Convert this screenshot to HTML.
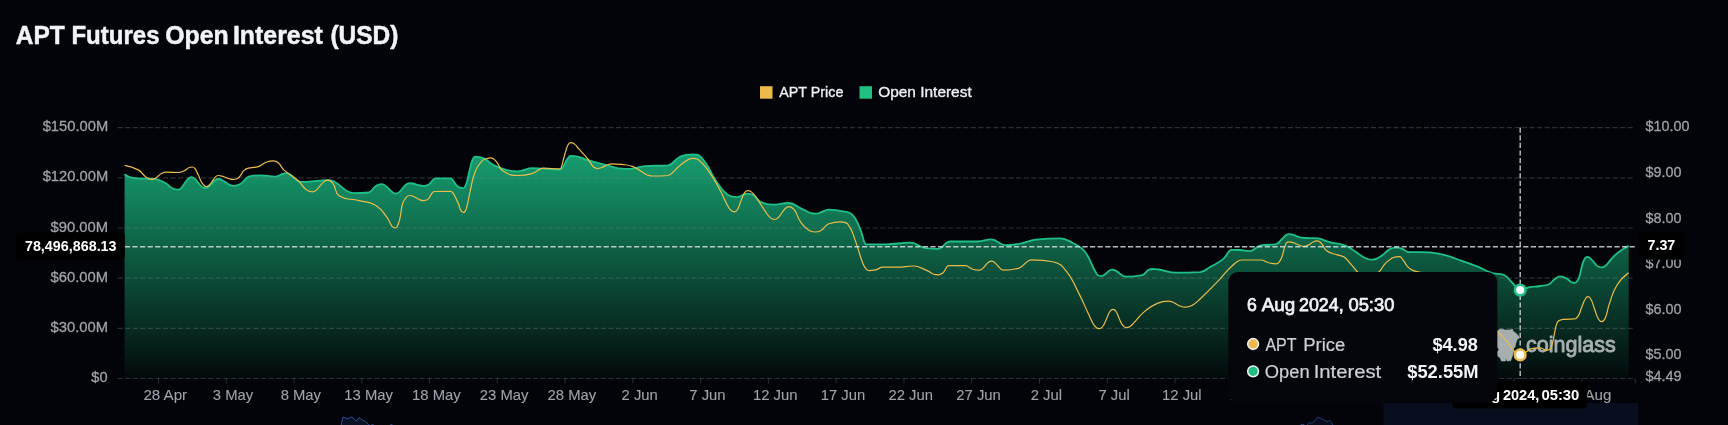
<!DOCTYPE html><html><head><meta charset="utf-8"><title>APT Futures Open Interest</title>
<style>html,body{margin:0;padding:0;background:#02040a;}body{width:1728px;height:425px;overflow:hidden;position:relative;font-family:"Liberation Sans",sans-serif;}svg{position:absolute;left:0;top:0;display:block;will-change:transform}text{font-family:"Liberation Sans",sans-serif;}</style></head><body>
<svg width="1728" height="425" viewBox="0 0 1728 425">
<defs><linearGradient id="ga" x1="0" y1="154" x2="0" y2="378.5" gradientUnits="userSpaceOnUse"><stop offset="0" stop-color="#169e6f"/><stop offset="1" stop-color="#030a0b"/></linearGradient></defs>
<rect width="1728" height="425" fill="#02040a"/>
<text x="15.80" y="44.1" font-size="25.4" font-weight="700" fill="#f1f3f6" stroke="#f1f3f6" stroke-width="0.5" stroke-linejoin="round" textLength="48.98" lengthAdjust="spacingAndGlyphs">APT</text>
<text x="71.43" y="44.1" font-size="25.4" font-weight="700" fill="#f1f3f6" stroke="#f1f3f6" stroke-width="0.5" stroke-linejoin="round" textLength="88.08" lengthAdjust="spacingAndGlyphs">Futures</text>
<text x="165.21" y="44.1" font-size="25.4" font-weight="700" fill="#f1f3f6" stroke="#f1f3f6" stroke-width="0.5" stroke-linejoin="round" textLength="63.48" lengthAdjust="spacingAndGlyphs">Open</text>
<text x="232.90" y="44.1" font-size="25.4" font-weight="700" fill="#f1f3f6" stroke="#f1f3f6" stroke-width="0.5" stroke-linejoin="round" textLength="89.92" lengthAdjust="spacingAndGlyphs">Interest</text>
<text x="330.43" y="44.1" font-size="25.4" font-weight="700" fill="#f1f3f6" stroke="#f1f3f6" stroke-width="0.5" stroke-linejoin="round" textLength="68.00" lengthAdjust="spacingAndGlyphs">(USD)</text>
<rect x="760" y="86.2" width="12.5" height="12.5" fill="#ecb94d"/>
<text x="779.30" y="97.1" font-size="15" fill="#eef0f3" stroke="#eef0f3" stroke-width="0.35" stroke-linejoin="round" textLength="64.03" lengthAdjust="spacingAndGlyphs">APT Price</text>
<rect x="859.5" y="86.2" width="12.5" height="12.5" fill="#1fc082"/>
<text x="878.20" y="97.1" font-size="15" fill="#eef0f3" stroke="#eef0f3" stroke-width="0.35" stroke-linejoin="round" textLength="93.52" lengthAdjust="spacingAndGlyphs">Open Interest</text>
<rect x="1383.5" y="402.9" width="254.6" height="23" fill="#080e1e"/>
<path d="M341.1,425.5 L343.1,417.1 L346.3,418.5 L349.8,417.9 L351.9,416.8 L356.5,421.4 L359,417.4 L361.3,419.4 L365.4,421.4 L368.3,424.3 L370,425.5 Z" fill="#0a1224" stroke="#2d5096" stroke-width="1"/>
<path d="M371.5,425 L372.5,424 L373.5,425 M390.5,425 L391.4,424 L392.3,425 M1300.5,425 L1302.5,424.2 L1304.5,425" fill="none" stroke="#2d5096" stroke-width="1"/>
<path d="M1307.1,425.5 L1308.5,422.9 L1312.6,422.9 L1317.8,417 L1321.7,418.8 L1327.2,421.9 L1329.3,420.3 L1331.7,422.2 L1332.8,425.5 Z" fill="#080d1c" stroke="#1e3a70" stroke-width="1"/>
<path d="M124.6,174.2C124.6,174.2 127.0,176.3 129.8,177.1C133.8,178.3 134.0,178.0 138.2,178.3C146.4,178.8 146.7,178.3 154.7,178.8C160.2,179.8 160.3,180.3 165.3,183.0C169.2,185.1 168.5,186.3 172.4,188.3C175.0,189.6 175.8,189.6 178.2,189.6C179.6,189.6 180.2,189.1 181.4,187.8C185.1,183.8 184.3,183.0 187.9,179.0C189.2,177.7 189.8,177.2 191.2,177.2C192.7,177.2 193.3,177.5 194.7,178.8C198.6,182.2 197.9,183.2 201.8,186.6C203.2,187.9 203.8,188.2 205.3,188.2C206.7,188.2 207.2,187.9 208.5,186.9C212.0,184.0 211.5,183.2 215.0,180.3C216.3,179.3 216.8,179.0 218.2,179.0C219.8,179.0 220.3,179.1 222.0,180.0C226.0,182.1 225.7,182.8 229.7,184.9C231.4,185.8 231.9,185.9 233.5,185.9C236.4,185.9 237.4,185.8 240.4,184.0C245.1,181.2 243.9,178.7 248.8,176.6C254.0,175.3 255.6,175.3 260.6,175.3C266.5,175.3 268.8,176.6 274.7,176.6C278.4,176.6 279.1,175.0 283.6,173.7C285.0,173.3 285.3,173.2 286.5,173.2C288.0,173.2 288.4,173.5 290.0,174.5C295.5,177.8 296.2,181.9 300.6,181.9C312.4,181.9 317.0,180.2 328.8,180.2C339.2,180.2 343.1,193.2 353.5,193.2C359.9,193.2 361.9,193.2 368.8,192.5C373.2,191.1 371.9,188.4 375.9,185.9C378.4,184.3 379.3,184.2 381.8,184.2C383.3,184.2 383.8,184.4 385.3,185.6C389.1,188.5 388.6,189.3 392.4,192.2C393.9,193.4 394.4,193.6 395.9,193.6C397.3,193.6 397.9,193.3 399.3,192.1C403.0,188.8 402.3,187.9 406.0,184.6C407.4,183.4 408.0,183.1 409.4,183.1C410.9,183.1 411.2,183.1 412.9,183.5C416.5,184.3 416.4,184.7 420.0,185.5C421.7,185.9 422.0,185.9 423.5,185.9C425.7,185.9 426.5,185.8 428.8,184.4C432.4,182.1 432.6,178.4 435.3,178.4C441.7,178.4 444.2,178.4 450.6,178.4C453.5,178.4 453.5,183.1 457.4,186.2C459.7,188.0 460.7,188.2 463.0,188.2C464.2,188.2 465.1,186.9 465.9,184.8C468.3,178.4 467.6,178.0 469.4,171.3C471.0,165.4 470.4,165.1 472.6,159.6C473.4,157.8 474.2,156.7 475.3,156.7C478.9,156.7 479.9,156.7 483.8,158.4C489.3,161.0 488.6,162.6 494.1,165.4C500.2,168.5 500.4,168.5 507.0,170.1C512.1,171.3 513.2,171.3 517.6,171.3C519.1,171.3 519.4,171.2 521.1,170.8C526.5,169.7 527.3,168.2 531.8,168.2C543.6,168.2 548.2,169.6 560.0,169.6C563.3,169.6 563.7,163.5 568.0,158.0C569.0,156.7 569.5,156.0 570.6,156.0C573.9,156.0 574.7,156.0 578.5,156.8C583.5,158.0 583.3,158.7 588.2,160.2C597.6,163.0 597.6,162.8 607.1,165.4C612.3,166.8 612.2,167.2 617.4,168.2C621.6,168.9 622.3,168.9 625.9,168.9C629.5,168.9 630.2,168.9 634.4,168.3C639.6,167.6 639.4,166.6 644.7,166.1C656.4,165.4 657.3,166.1 668.2,165.4C675.0,163.6 673.5,159.6 680.0,156.7C685.8,154.4 687.5,154.4 692.9,154.4C695.1,154.4 696.2,154.4 698.2,154.8C703.0,158.2 703.0,159.0 706.5,164.2C711.8,172.0 710.5,172.9 715.9,180.7C721.1,188.2 720.7,189.4 727.6,194.8C731.3,197.2 733.1,197.2 737.0,197.2C740.3,197.2 740.9,195.5 745.0,194.1C746.2,193.7 746.5,193.6 747.6,193.6C750.1,193.6 751.0,193.7 753.5,195.3C757.5,197.8 756.4,199.8 760.6,201.9C765.9,204.5 767.4,204.7 772.4,204.7C779.3,204.7 781.9,203.0 788.8,203.0C794.8,203.0 795.9,206.2 803.0,209.4C806.6,211.0 806.4,211.6 810.1,212.8C812.9,213.6 813.5,213.6 815.9,213.6C817.3,213.6 817.6,213.5 819.1,213.0C824.0,211.5 824.7,209.6 828.8,209.6C834.8,209.6 836.0,209.8 843.0,211.3C847.7,212.3 849.0,211.3 852.2,214.6C857.4,219.8 856.6,221.2 859.9,228.3C863.5,236.0 863.4,244.3 866.0,244.3C874.4,244.3 877.5,244.3 885.9,244.3C896.1,244.3 900.1,242.7 910.3,242.7C916.7,242.7 917.7,246.5 925.6,248.2C931.5,248.8 932.7,248.8 937.9,248.8C943.0,248.8 945.0,241.5 950.1,241.5C961.6,241.5 966.1,241.5 977.6,241.5C983.4,241.5 985.6,239.4 991.4,239.4C997.2,239.4 999.3,245.2 1005.1,245.2C1011.5,245.2 1012.8,245.0 1020.4,243.6C1028.1,242.2 1027.9,240.7 1035.7,239.7C1047.8,238.4 1049.9,238.4 1060.2,238.4C1065.3,238.4 1066.7,239.7 1072.4,242.7C1078.9,246.2 1080.1,245.6 1084.6,251.3C1092.4,261.3 1089.8,263.8 1096.9,274.2C1098.3,276.1 1099.6,276.1 1101.5,276.1C1104.9,276.1 1105.4,273.1 1109.5,270.5C1110.7,269.8 1111.1,269.6 1112.2,269.6C1113.6,269.6 1114.0,269.8 1115.6,270.6C1120.9,273.4 1121.6,276.7 1125.9,276.7C1132.7,276.7 1134.6,276.7 1142.2,275.1C1145.7,274.1 1144.8,272.1 1148.1,270.2C1150.2,269.0 1150.9,269.0 1152.9,269.0C1155.3,269.0 1155.8,269.1 1158.7,269.5C1167.3,270.9 1168.7,272.7 1175.9,272.7C1186.1,272.7 1188.5,272.7 1200.3,272.1C1205.6,271.2 1205.2,269.7 1210.0,267.0C1216.4,263.4 1217.0,264.0 1222.7,259.4C1227.8,255.4 1227.9,249.8 1231.6,249.8C1235.1,249.8 1235.8,249.8 1240.0,250.0C1244.8,250.3 1245.5,251.1 1249.5,251.1C1254.3,251.1 1254.8,247.0 1260.9,245.4C1268.2,244.1 1269.2,245.4 1276.2,244.1C1280.1,242.8 1279.4,241.3 1282.6,238.4C1284.4,236.8 1284.1,236.3 1286.1,235.0C1287.3,234.2 1287.7,234.2 1288.9,234.2C1290.8,234.2 1291.3,234.2 1293.5,234.8C1296.4,235.6 1296.2,236.4 1299.1,237.1C1302.8,238.0 1302.9,237.7 1306.8,238.0C1312.5,238.4 1312.6,238.0 1318.2,238.4C1324.1,239.5 1323.9,240.7 1329.7,242.2C1336.0,243.8 1336.2,243.0 1342.4,244.7C1346.3,245.8 1346.5,245.8 1350.0,247.9C1356.7,251.9 1356.2,252.7 1362.8,256.8C1365.1,258.2 1365.2,258.2 1367.7,259.0C1369.6,259.6 1370.0,259.6 1371.7,259.6C1373.6,259.6 1374.2,259.6 1376.3,258.8C1379.3,257.6 1379.3,257.5 1381.9,255.6C1385.9,252.7 1385.4,251.7 1389.6,249.3C1392.4,247.7 1393.3,247.7 1395.9,247.7C1398.3,247.7 1398.9,247.7 1401.6,248.6C1405.3,249.8 1404.8,251.5 1408.6,252.0C1419.0,252.4 1419.4,252.0 1430.0,252.4C1438.0,253.1 1438.1,253.3 1445.9,255.4C1453.7,257.4 1453.6,257.9 1461.2,260.6C1468.9,263.3 1469.0,263.1 1476.5,266.1C1484.2,269.2 1483.9,270.3 1491.7,272.8C1497.6,274.7 1498.6,272.8 1504.0,275.0C1508.5,277.1 1507.8,278.5 1511.6,282.0C1515.7,285.8 1516.4,289.6 1519.9,289.6C1523.5,289.6 1524.1,288.3 1528.4,287.5C1534.1,286.5 1534.2,286.9 1540.0,286.0C1544.5,285.3 1545.0,286.0 1549.0,284.2C1552.2,282.7 1551.5,281.4 1554.5,279.3C1557.1,277.5 1557.7,276.4 1560.1,276.4C1562.9,276.4 1563.7,277.0 1566.8,278.6C1569.2,279.8 1568.8,280.7 1571.1,282.0C1572.7,282.8 1573.2,282.8 1574.7,282.8C1575.5,282.8 1576.0,282.6 1576.7,281.7C1578.2,279.9 1578.3,279.8 1579.1,277.5C1581.3,271.0 1580.5,270.7 1582.5,264.1C1583.4,261.1 1583.4,260.9 1585.0,258.3C1585.6,257.3 1586.1,256.9 1587.0,256.9C1588.1,256.9 1588.5,256.9 1589.5,257.7C1591.3,258.8 1591.1,259.1 1592.6,260.7C1595.1,263.3 1594.7,263.9 1597.5,266.1C1599.1,267.3 1599.8,267.4 1601.5,267.4C1602.6,267.4 1602.9,267.4 1604.0,266.7C1605.7,265.7 1605.7,265.6 1607.1,264.1C1610.6,260.4 1610.1,259.9 1613.8,256.3C1617.1,253.1 1617.2,253.1 1621.0,250.5C1624.7,247.9 1628.7,245.9 1628.7,245.9L1628.7,378.5 L124.6,378.5 Z" fill="url(#ga)"/>
<path d="M1497.5,331.8 L1498.8,329.8 L1500.9,329 L1504.5,330.1 L1510.2,330.1 L1512.3,329 L1513,331.3 L1515.4,332.9 L1518.2,335.5 L1519.2,338.1 L1517.2,339.1 L1515.9,342.7 L1514.9,346.9 L1513,349.1 L1513.3,353.1 L1511.8,357.2 L1510.7,360.5 L1507.1,360.9 L1506.1,357.8 L1505.3,360.9 L1501.4,360.9 L1500.4,357.8 L1497.8,356.2 L1497.5,352 L1499.1,349.5 L1497.5,346.9 Z" fill="#a7aeb0" stroke="#a7aeb0" stroke-width="0.8" stroke-linejoin="round"/>
<text x="1526.07" y="352.0" font-size="22" fill="#a7aeb0" stroke="#a7aeb0" stroke-width="0.9" stroke-linejoin="round" textLength="89.72" lengthAdjust="spacingAndGlyphs">coinglass</text>
<line x1="117.7" y1="127.6" x2="1635.2" y2="127.6" stroke="#7a828c" stroke-opacity="0.35" stroke-width="1.2" stroke-dasharray="5 2.55"/>
<line x1="117.7" y1="177.8" x2="1635.2" y2="177.8" stroke="#7a828c" stroke-opacity="0.35" stroke-width="1.2" stroke-dasharray="5 2.55"/>
<line x1="117.7" y1="228.0" x2="1635.2" y2="228.0" stroke="#7a828c" stroke-opacity="0.35" stroke-width="1.2" stroke-dasharray="5 2.55"/>
<line x1="117.7" y1="278.1" x2="1635.2" y2="278.1" stroke="#7a828c" stroke-opacity="0.35" stroke-width="1.2" stroke-dasharray="5 2.55"/>
<line x1="117.7" y1="328.3" x2="1635.2" y2="328.3" stroke="#7a828c" stroke-opacity="0.35" stroke-width="1.2" stroke-dasharray="5 2.55"/>
<line x1="117.7" y1="378.5" x2="1635.2" y2="378.5" stroke="#7a828c" stroke-opacity="0.35" stroke-width="1.2" stroke-dasharray="5 2.55"/>
<path d="M158.5,378.5v5M226.3,378.5v5M294.0,378.5v5M361.8,378.5v5M429.6,378.5v5M497.3,378.5v5M565.1,378.5v5M632.9,378.5v5M700.7,378.5v5M768.4,378.5v5M836.2,378.5v5M904.0,378.5v5M971.7,378.5v5M1039.5,378.5v5M1107.3,378.5v5M1175.0,378.5v5M1242.8,378.5v5M1310.6,378.5v5M1378.4,378.5v5M1446.1,378.5v5M1513.9,378.5v5M1581.7,378.5v5M1635.2,378.5v5" stroke="#7a828c" stroke-opacity="0.35" stroke-width="1" fill="none"/>
<path d="M124.6,174.2C124.6,174.2 127.0,176.3 129.8,177.1C133.8,178.3 134.0,178.0 138.2,178.3C146.4,178.8 146.7,178.3 154.7,178.8C160.2,179.8 160.3,180.3 165.3,183.0C169.2,185.1 168.5,186.3 172.4,188.3C175.0,189.6 175.8,189.6 178.2,189.6C179.6,189.6 180.2,189.1 181.4,187.8C185.1,183.8 184.3,183.0 187.9,179.0C189.2,177.7 189.8,177.2 191.2,177.2C192.7,177.2 193.3,177.5 194.7,178.8C198.6,182.2 197.9,183.2 201.8,186.6C203.2,187.9 203.8,188.2 205.3,188.2C206.7,188.2 207.2,187.9 208.5,186.9C212.0,184.0 211.5,183.2 215.0,180.3C216.3,179.3 216.8,179.0 218.2,179.0C219.8,179.0 220.3,179.1 222.0,180.0C226.0,182.1 225.7,182.8 229.7,184.9C231.4,185.8 231.9,185.9 233.5,185.9C236.4,185.9 237.4,185.8 240.4,184.0C245.1,181.2 243.9,178.7 248.8,176.6C254.0,175.3 255.6,175.3 260.6,175.3C266.5,175.3 268.8,176.6 274.7,176.6C278.4,176.6 279.1,175.0 283.6,173.7C285.0,173.3 285.3,173.2 286.5,173.2C288.0,173.2 288.4,173.5 290.0,174.5C295.5,177.8 296.2,181.9 300.6,181.9C312.4,181.9 317.0,180.2 328.8,180.2C339.2,180.2 343.1,193.2 353.5,193.2C359.9,193.2 361.9,193.2 368.8,192.5C373.2,191.1 371.9,188.4 375.9,185.9C378.4,184.3 379.3,184.2 381.8,184.2C383.3,184.2 383.8,184.4 385.3,185.6C389.1,188.5 388.6,189.3 392.4,192.2C393.9,193.4 394.4,193.6 395.9,193.6C397.3,193.6 397.9,193.3 399.3,192.1C403.0,188.8 402.3,187.9 406.0,184.6C407.4,183.4 408.0,183.1 409.4,183.1C410.9,183.1 411.2,183.1 412.9,183.5C416.5,184.3 416.4,184.7 420.0,185.5C421.7,185.9 422.0,185.9 423.5,185.9C425.7,185.9 426.5,185.8 428.8,184.4C432.4,182.1 432.6,178.4 435.3,178.4C441.7,178.4 444.2,178.4 450.6,178.4C453.5,178.4 453.5,183.1 457.4,186.2C459.7,188.0 460.7,188.2 463.0,188.2C464.2,188.2 465.1,186.9 465.9,184.8C468.3,178.4 467.6,178.0 469.4,171.3C471.0,165.4 470.4,165.1 472.6,159.6C473.4,157.8 474.2,156.7 475.3,156.7C478.9,156.7 479.9,156.7 483.8,158.4C489.3,161.0 488.6,162.6 494.1,165.4C500.2,168.5 500.4,168.5 507.0,170.1C512.1,171.3 513.2,171.3 517.6,171.3C519.1,171.3 519.4,171.2 521.1,170.8C526.5,169.7 527.3,168.2 531.8,168.2C543.6,168.2 548.2,169.6 560.0,169.6C563.3,169.6 563.7,163.5 568.0,158.0C569.0,156.7 569.5,156.0 570.6,156.0C573.9,156.0 574.7,156.0 578.5,156.8C583.5,158.0 583.3,158.7 588.2,160.2C597.6,163.0 597.6,162.8 607.1,165.4C612.3,166.8 612.2,167.2 617.4,168.2C621.6,168.9 622.3,168.9 625.9,168.9C629.5,168.9 630.2,168.9 634.4,168.3C639.6,167.6 639.4,166.6 644.7,166.1C656.4,165.4 657.3,166.1 668.2,165.4C675.0,163.6 673.5,159.6 680.0,156.7C685.8,154.4 687.5,154.4 692.9,154.4C695.1,154.4 696.2,154.4 698.2,154.8C703.0,158.2 703.0,159.0 706.5,164.2C711.8,172.0 710.5,172.9 715.9,180.7C721.1,188.2 720.7,189.4 727.6,194.8C731.3,197.2 733.1,197.2 737.0,197.2C740.3,197.2 740.9,195.5 745.0,194.1C746.2,193.7 746.5,193.6 747.6,193.6C750.1,193.6 751.0,193.7 753.5,195.3C757.5,197.8 756.4,199.8 760.6,201.9C765.9,204.5 767.4,204.7 772.4,204.7C779.3,204.7 781.9,203.0 788.8,203.0C794.8,203.0 795.9,206.2 803.0,209.4C806.6,211.0 806.4,211.6 810.1,212.8C812.9,213.6 813.5,213.6 815.9,213.6C817.3,213.6 817.6,213.5 819.1,213.0C824.0,211.5 824.7,209.6 828.8,209.6C834.8,209.6 836.0,209.8 843.0,211.3C847.7,212.3 849.0,211.3 852.2,214.6C857.4,219.8 856.6,221.2 859.9,228.3C863.5,236.0 863.4,244.3 866.0,244.3C874.4,244.3 877.5,244.3 885.9,244.3C896.1,244.3 900.1,242.7 910.3,242.7C916.7,242.7 917.7,246.5 925.6,248.2C931.5,248.8 932.7,248.8 937.9,248.8C943.0,248.8 945.0,241.5 950.1,241.5C961.6,241.5 966.1,241.5 977.6,241.5C983.4,241.5 985.6,239.4 991.4,239.4C997.2,239.4 999.3,245.2 1005.1,245.2C1011.5,245.2 1012.8,245.0 1020.4,243.6C1028.1,242.2 1027.9,240.7 1035.7,239.7C1047.8,238.4 1049.9,238.4 1060.2,238.4C1065.3,238.4 1066.7,239.7 1072.4,242.7C1078.9,246.2 1080.1,245.6 1084.6,251.3C1092.4,261.3 1089.8,263.8 1096.9,274.2C1098.3,276.1 1099.6,276.1 1101.5,276.1C1104.9,276.1 1105.4,273.1 1109.5,270.5C1110.7,269.8 1111.1,269.6 1112.2,269.6C1113.6,269.6 1114.0,269.8 1115.6,270.6C1120.9,273.4 1121.6,276.7 1125.9,276.7C1132.7,276.7 1134.6,276.7 1142.2,275.1C1145.7,274.1 1144.8,272.1 1148.1,270.2C1150.2,269.0 1150.9,269.0 1152.9,269.0C1155.3,269.0 1155.8,269.1 1158.7,269.5C1167.3,270.9 1168.7,272.7 1175.9,272.7C1186.1,272.7 1188.5,272.7 1200.3,272.1C1205.6,271.2 1205.2,269.7 1210.0,267.0C1216.4,263.4 1217.0,264.0 1222.7,259.4C1227.8,255.4 1227.9,249.8 1231.6,249.8C1235.1,249.8 1235.8,249.8 1240.0,250.0C1244.8,250.3 1245.5,251.1 1249.5,251.1C1254.3,251.1 1254.8,247.0 1260.9,245.4C1268.2,244.1 1269.2,245.4 1276.2,244.1C1280.1,242.8 1279.4,241.3 1282.6,238.4C1284.4,236.8 1284.1,236.3 1286.1,235.0C1287.3,234.2 1287.7,234.2 1288.9,234.2C1290.8,234.2 1291.3,234.2 1293.5,234.8C1296.4,235.6 1296.2,236.4 1299.1,237.1C1302.8,238.0 1302.9,237.7 1306.8,238.0C1312.5,238.4 1312.6,238.0 1318.2,238.4C1324.1,239.5 1323.9,240.7 1329.7,242.2C1336.0,243.8 1336.2,243.0 1342.4,244.7C1346.3,245.8 1346.5,245.8 1350.0,247.9C1356.7,251.9 1356.2,252.7 1362.8,256.8C1365.1,258.2 1365.2,258.2 1367.7,259.0C1369.6,259.6 1370.0,259.6 1371.7,259.6C1373.6,259.6 1374.2,259.6 1376.3,258.8C1379.3,257.6 1379.3,257.5 1381.9,255.6C1385.9,252.7 1385.4,251.7 1389.6,249.3C1392.4,247.7 1393.3,247.7 1395.9,247.7C1398.3,247.7 1398.9,247.7 1401.6,248.6C1405.3,249.8 1404.8,251.5 1408.6,252.0C1419.0,252.4 1419.4,252.0 1430.0,252.4C1438.0,253.1 1438.1,253.3 1445.9,255.4C1453.7,257.4 1453.6,257.9 1461.2,260.6C1468.9,263.3 1469.0,263.1 1476.5,266.1C1484.2,269.2 1483.9,270.3 1491.7,272.8C1497.6,274.7 1498.6,272.8 1504.0,275.0C1508.5,277.1 1507.8,278.5 1511.6,282.0C1515.7,285.8 1516.4,289.6 1519.9,289.6C1523.5,289.6 1524.1,288.3 1528.4,287.5C1534.1,286.5 1534.2,286.9 1540.0,286.0C1544.5,285.3 1545.0,286.0 1549.0,284.2C1552.2,282.7 1551.5,281.4 1554.5,279.3C1557.1,277.5 1557.7,276.4 1560.1,276.4C1562.9,276.4 1563.7,277.0 1566.8,278.6C1569.2,279.8 1568.8,280.7 1571.1,282.0C1572.7,282.8 1573.2,282.8 1574.7,282.8C1575.5,282.8 1576.0,282.6 1576.7,281.7C1578.2,279.9 1578.3,279.8 1579.1,277.5C1581.3,271.0 1580.5,270.7 1582.5,264.1C1583.4,261.1 1583.4,260.9 1585.0,258.3C1585.6,257.3 1586.1,256.9 1587.0,256.9C1588.1,256.9 1588.5,256.9 1589.5,257.7C1591.3,258.8 1591.1,259.1 1592.6,260.7C1595.1,263.3 1594.7,263.9 1597.5,266.1C1599.1,267.3 1599.8,267.4 1601.5,267.4C1602.6,267.4 1602.9,267.4 1604.0,266.7C1605.7,265.7 1605.7,265.6 1607.1,264.1C1610.6,260.4 1610.1,259.9 1613.8,256.3C1617.1,253.1 1617.2,253.1 1621.0,250.5C1624.7,247.9 1628.7,245.9 1628.7,245.9" fill="none" stroke="#1fc087" stroke-width="1.8" stroke-linejoin="round"/>
<path d="M124.6,165.4C124.6,165.4 132.0,166.6 138.2,169.9C142.6,172.3 141.6,173.9 145.8,176.9C148.2,178.6 149.0,179.3 151.4,179.3C153.1,179.3 153.7,179.3 155.5,178.2C158.9,176.2 158.4,175.1 161.8,173.2C163.9,172.2 164.5,172.2 166.5,172.2C171.6,172.2 173.6,172.5 178.7,172.5C181.1,172.5 181.7,172.0 184.3,170.8C186.7,169.7 186.4,168.9 188.8,167.8C190.4,167.0 190.9,167.0 192.4,167.0C193.5,167.0 194.1,167.4 195.0,168.6C197.0,171.3 196.6,171.7 198.2,174.8C200.5,179.5 199.8,180.1 202.8,184.2C204.0,186.0 204.9,186.6 206.5,186.6C207.7,186.6 208.3,186.2 209.4,185.0C212.7,181.4 212.0,180.7 215.3,177.1C216.4,175.9 217.0,175.5 218.2,175.5C219.8,175.5 220.2,175.5 222.0,176.1C225.9,177.2 225.8,177.8 229.7,178.9C231.5,179.5 231.9,179.5 233.5,179.5C235.7,179.5 236.7,179.3 238.8,177.5C242.6,174.2 241.0,171.8 245.3,169.4C250.7,166.6 252.0,168.7 258.2,166.6C262.7,165.1 262.2,163.7 266.6,162.0C269.8,160.9 270.6,160.9 273.5,160.9C275.5,160.9 276.4,161.1 278.3,162.7C281.7,165.7 280.6,167.0 284.1,170.1C290.6,176.0 291.6,174.9 298.2,180.7C302.6,184.6 301.5,186.0 306.0,189.6C308.6,191.6 309.7,191.8 312.4,191.8C314.0,191.8 314.7,191.4 316.2,190.1C320.4,186.5 319.6,185.5 323.8,181.9C325.3,180.6 326.0,180.2 327.6,180.2C329.8,180.2 331.1,181.0 332.9,183.4C337.0,188.9 334.0,192.5 339.4,196.0C347.2,200.7 349.5,198.1 359.4,200.7C367.7,202.8 368.9,201.0 375.9,205.4C383.0,209.9 382.3,211.5 387.6,218.4C390.3,221.9 389.2,222.8 391.9,226.1C393.2,227.6 394.0,228.0 395.5,228.0C396.4,228.0 397.0,227.3 397.5,226.0C399.2,222.3 399.1,222.1 400.0,218.0C401.6,211.1 400.5,210.7 402.5,204.0C403.6,200.3 403.9,200.1 406.4,197.2C407.4,195.9 408.2,195.5 409.5,195.5C411.0,195.5 411.4,195.6 413.0,196.3C416.6,197.8 416.4,198.4 420.0,199.9C421.6,200.6 422.0,200.7 423.5,200.7C425.5,200.7 426.4,200.5 428.3,198.9C431.7,195.9 430.1,192.9 434.1,191.5C441.2,191.3 443.7,191.3 450.6,191.3C453.5,191.3 454.6,196.3 457.6,201.9C459.7,205.9 458.7,206.5 460.8,210.4C461.6,211.8 462.4,212.5 463.5,212.5C464.6,212.5 465.5,211.0 466.2,209.0C468.4,202.2 467.7,201.9 469.4,194.8C472.3,183.0 471.0,182.5 475.3,171.3C477.5,165.4 478.2,165.3 482.4,160.7C484.0,158.9 484.6,159.3 486.9,158.5C488.7,157.9 489.1,157.9 490.6,157.9C491.7,157.9 492.1,157.9 493.3,158.7C495.1,159.9 495.1,160.1 496.5,161.9C500.2,166.4 498.8,168.3 503.5,171.3C509.4,175.1 511.7,175.5 517.6,175.5C523.6,175.5 525.0,175.5 531.8,173.6C537.9,171.9 538.6,168.2 543.5,168.2C550.4,168.2 553.1,168.9 560.0,168.9C562.0,168.9 562.4,161.9 564.7,154.8C566.3,149.9 565.8,149.6 567.9,145.0C568.7,143.5 569.5,142.6 570.6,142.6C572.1,142.6 572.8,142.7 574.3,143.9C576.9,145.9 576.6,146.4 578.8,148.9C583.5,154.2 583.7,154.0 588.2,159.5C591.0,162.9 590.3,163.7 593.4,166.7C595.0,168.2 595.8,168.5 597.6,168.5C599.1,168.5 599.5,168.4 601.1,167.8C604.8,166.4 604.6,165.9 608.2,164.5C609.9,163.9 610.3,163.8 611.8,163.8C615.8,163.8 616.6,163.8 621.3,164.4C627.1,165.1 627.4,164.5 632.9,166.6C642.7,170.3 643.9,176.0 651.8,176.0C658.7,176.0 661.0,176.0 668.2,175.5C675.1,172.9 673.7,169.8 680.0,165.4C686.0,161.2 687.5,158.4 692.9,158.4C695.1,158.4 696.2,158.4 698.2,159.5C704.1,164.3 704.3,164.8 708.8,171.3C715.5,180.7 715.0,181.1 720.6,191.3C725.0,199.4 724.2,199.9 728.8,207.8C729.9,209.8 730.2,209.8 732.0,211.0C733.2,211.8 733.6,211.8 734.7,211.8C735.8,211.8 736.5,211.2 737.4,209.8C739.5,206.3 738.9,205.8 740.6,201.9C742.5,197.4 741.9,196.9 744.5,192.9C745.4,191.3 746.3,190.6 747.6,190.6C749.2,190.6 749.8,190.7 751.3,191.9C754.0,194.0 753.9,194.4 755.9,197.2C760.8,204.1 760.4,204.4 765.3,211.3C767.7,214.7 767.4,215.2 770.5,217.9C772.1,219.3 772.9,219.5 774.7,219.5C776.2,219.5 776.9,219.0 778.2,217.6C782.2,213.5 781.3,212.6 785.3,208.5C786.6,207.1 787.3,206.6 788.8,206.6C791.0,206.6 792.3,207.3 794.1,209.7C798.2,215.0 796.7,216.3 800.6,221.9C803.8,226.4 803.9,226.8 808.4,230.0C811.0,231.9 812.0,232.0 814.7,232.0C817.4,232.0 818.3,232.0 821.0,230.4C825.3,227.9 824.3,225.7 828.8,223.8C834.1,221.9 835.6,221.9 840.6,221.9C843.5,221.9 845.5,221.9 847.6,223.8C852.9,230.5 852.0,232.0 855.3,240.6C859.6,251.8 858.6,252.3 862.9,263.5C864.1,266.6 864.2,266.8 866.3,269.2C867.3,270.3 867.9,270.6 869.1,270.6C871.7,270.6 872.3,270.6 875.3,269.9C879.1,269.0 879.6,267.2 882.8,267.2C889.2,267.2 891.7,267.2 898.1,267.2C904.5,267.2 907.0,266.0 913.4,266.0C919.2,266.0 920.5,267.9 927.2,270.6C930.3,271.9 930.0,272.7 933.1,274.0C935.3,274.8 935.9,274.8 937.9,274.8C939.9,274.8 940.8,274.6 942.7,273.0C946.2,270.0 946.1,265.7 948.6,265.7C955.7,265.7 958.3,265.7 965.4,265.7C968.6,265.7 969.0,268.0 972.9,269.3C975.9,270.2 976.5,270.2 979.1,270.2C980.4,270.2 980.9,269.9 982.2,268.9C985.5,266.0 985.0,265.3 988.3,262.4C989.6,261.4 990.1,261.1 991.4,261.1C992.7,261.1 993.1,261.4 994.5,262.4C999.2,266.0 999.8,270.2 1003.6,270.2C1010.0,270.2 1011.9,270.2 1018.9,268.1C1025.6,265.6 1026.0,259.8 1031.1,259.8C1040.8,259.8 1043.5,259.8 1054.1,262.0C1061.1,264.3 1061.6,265.3 1066.3,271.2C1073.8,280.6 1072.8,281.7 1078.5,292.6C1084.3,303.8 1083.7,304.1 1089.2,315.5C1091.8,320.9 1091.2,321.5 1094.8,326.1C1096.3,328.1 1097.4,328.7 1099.3,328.7C1100.6,328.7 1101.3,328.3 1102.3,327.0C1104.6,324.0 1104.3,323.6 1106.0,320.1C1108.1,315.9 1107.4,315.3 1109.9,311.5C1110.9,310.0 1111.8,309.4 1113.1,309.4C1114.4,309.4 1115.2,310.0 1116.1,311.5C1118.5,315.4 1117.7,315.9 1119.8,320.1C1121.4,323.3 1121.2,323.6 1123.5,326.2C1124.6,327.4 1125.2,327.7 1126.5,327.7C1127.8,327.7 1128.3,327.7 1129.7,326.8C1131.9,325.4 1131.7,325.0 1133.6,323.1C1139.5,317.1 1138.8,316.2 1145.3,310.9C1151.0,306.2 1151.2,305.9 1157.9,303.1C1162.6,301.1 1163.9,301.1 1168.2,301.1C1170.0,301.1 1170.4,301.2 1172.4,302.0C1176.7,303.8 1176.5,304.5 1180.8,306.3C1182.8,307.1 1183.2,307.2 1185.0,307.2C1187.9,307.2 1188.9,307.2 1191.9,305.5C1196.5,302.9 1196.4,302.4 1200.3,298.7C1209.8,289.8 1209.6,289.6 1218.7,280.3C1225.5,273.3 1224.7,272.4 1232.0,266.0C1236.3,262.2 1237.7,260.0 1241.8,260.0C1249.8,260.0 1252.9,260.0 1260.9,260.0C1264.4,260.0 1265.0,262.0 1269.3,263.0C1272.7,263.8 1273.3,263.8 1276.2,263.8C1277.2,263.8 1277.7,263.6 1278.6,262.6C1280.4,260.7 1280.5,260.5 1281.5,258.0C1284.4,250.6 1283.0,249.5 1286.4,242.8C1287.1,241.9 1288.3,241.9 1289.6,241.9C1294.2,241.9 1295.0,244.0 1300.5,245.7C1302.3,246.3 1302.7,246.4 1304.2,246.4C1305.5,246.4 1305.9,246.3 1307.4,245.6C1310.7,244.0 1310.4,243.3 1313.7,241.7C1315.2,241.0 1315.6,240.9 1316.9,240.9C1317.9,240.9 1318.2,240.9 1319.2,241.5C1320.8,242.5 1320.8,242.6 1322.0,244.1C1324.7,247.4 1323.7,248.7 1327.1,251.1C1331.4,254.1 1332.2,253.1 1337.3,254.9C1340.5,256.0 1341.0,255.0 1343.7,256.8C1347.3,259.2 1347.0,259.9 1350.0,263.2C1353.6,267.2 1353.4,267.4 1357.0,271.5C1359.7,274.6 1359.3,275.1 1362.5,277.5C1364.3,278.9 1365.1,279.0 1367.0,279.0C1369.3,279.0 1370.1,279.0 1372.5,277.5C1376.3,275.2 1376.3,274.8 1379.3,271.5C1382.8,267.7 1382.0,266.9 1385.7,263.2C1389.0,259.9 1389.1,259.5 1393.3,257.5C1396.1,256.6 1397.0,256.6 1399.7,256.6C1401.3,256.6 1401.8,258.5 1403.5,260.6C1406.2,264.0 1405.5,264.8 1408.6,267.6C1411.2,270.0 1411.6,269.7 1415.0,271.1C1418.3,272.4 1419.0,271.1 1422.0,273.0C1427.5,276.5 1426.3,278.6 1432.0,282.0C1440.3,287.1 1441.1,285.8 1450.0,290.0C1460.1,294.8 1460.9,293.7 1470.0,300.0C1479.9,306.7 1480.2,307.0 1488.0,316.0C1493.8,322.7 1491.9,324.2 1497.2,331.3C1500.7,336.0 1501.7,335.2 1505.5,339.6C1509.2,344.0 1508.7,344.4 1512.3,348.9C1514.3,351.4 1514.1,351.8 1516.6,353.7C1518.1,354.8 1518.7,354.9 1520.2,354.9C1521.3,354.9 1521.7,354.9 1522.9,354.3C1524.7,353.5 1524.5,353.1 1526.2,352.0C1528.8,350.3 1528.5,349.5 1531.4,348.6C1535.3,347.9 1536.2,347.9 1539.7,347.9C1542.6,347.9 1543.6,350.3 1546.5,350.3C1547.9,350.3 1548.7,350.3 1549.8,349.3C1551.5,347.7 1551.4,347.2 1552.1,344.8C1553.9,338.8 1553.3,338.6 1554.7,332.4C1555.9,327.4 1555.2,326.9 1557.3,322.5C1558.1,320.7 1558.7,320.8 1560.5,320.0C1562.3,319.3 1562.5,319.5 1564.5,319.3C1570.1,318.8 1571.8,319.3 1575.8,318.7C1580.6,315.2 1579.1,312.7 1582.0,306.5C1583.8,302.7 1583.2,302.2 1585.4,298.7C1586.2,297.3 1586.9,296.7 1588.1,296.7C1589.3,296.7 1590.0,297.4 1590.8,299.0C1593.1,303.1 1592.5,303.5 1594.2,308.0C1596.3,313.5 1595.6,314.0 1598.4,319.0C1599.4,320.8 1600.4,321.7 1601.8,321.7C1603.3,321.7 1604.3,320.3 1605.3,318.0C1608.2,311.2 1606.9,310.6 1609.5,303.4C1612.9,294.0 1611.9,293.3 1617.1,285.0C1621.5,278.0 1628.7,272.8 1628.7,272.8" fill="none" stroke="#ecbc4b" stroke-width="1.2" stroke-linejoin="round"/>
<text x="42.66" y="131.2" font-size="15.3" fill="#9fa2a8" stroke="#9fa2a8" stroke-width="0.3" stroke-linejoin="round" textLength="65.54" lengthAdjust="spacingAndGlyphs">$150.00M</text>
<text x="42.66" y="181.4" font-size="15.3" fill="#9fa2a8" stroke="#9fa2a8" stroke-width="0.3" stroke-linejoin="round" textLength="65.54" lengthAdjust="spacingAndGlyphs">$120.00M</text>
<text x="50.60" y="231.6" font-size="15.3" fill="#9fa2a8" stroke="#9fa2a8" stroke-width="0.3" stroke-linejoin="round" textLength="57.47" lengthAdjust="spacingAndGlyphs">$90.00M</text>
<text x="50.60" y="281.7" font-size="15.3" fill="#9fa2a8" stroke="#9fa2a8" stroke-width="0.3" stroke-linejoin="round" textLength="57.47" lengthAdjust="spacingAndGlyphs">$60.00M</text>
<text x="50.60" y="331.9" font-size="15.3" fill="#9fa2a8" stroke="#9fa2a8" stroke-width="0.3" stroke-linejoin="round" textLength="57.47" lengthAdjust="spacingAndGlyphs">$30.00M</text>
<text x="91.30" y="382.1" font-size="15.3" fill="#9fa2a8" stroke="#9fa2a8" stroke-width="0.3" stroke-linejoin="round" textLength="16.20" lengthAdjust="spacingAndGlyphs">$0</text>
<text x="1645.50" y="131.2" font-size="15.3" fill="#9fa2a8" stroke="#9fa2a8" stroke-width="0.3" stroke-linejoin="round" textLength="43.95" lengthAdjust="spacingAndGlyphs">$10.00</text>
<text x="1645.50" y="177.2" font-size="15.3" fill="#9fa2a8" stroke="#9fa2a8" stroke-width="0.3" stroke-linejoin="round" textLength="35.93" lengthAdjust="spacingAndGlyphs">$9.00</text>
<text x="1645.50" y="222.8" font-size="15.3" fill="#9fa2a8" stroke="#9fa2a8" stroke-width="0.3" stroke-linejoin="round" textLength="35.93" lengthAdjust="spacingAndGlyphs">$8.00</text>
<text x="1645.50" y="268.3" font-size="15.3" fill="#9fa2a8" stroke="#9fa2a8" stroke-width="0.3" stroke-linejoin="round" textLength="35.93" lengthAdjust="spacingAndGlyphs">$7.00</text>
<text x="1645.50" y="313.8" font-size="15.3" fill="#9fa2a8" stroke="#9fa2a8" stroke-width="0.3" stroke-linejoin="round" textLength="35.93" lengthAdjust="spacingAndGlyphs">$6.00</text>
<text x="1645.50" y="359.4" font-size="15.3" fill="#9fa2a8" stroke="#9fa2a8" stroke-width="0.3" stroke-linejoin="round" textLength="35.93" lengthAdjust="spacingAndGlyphs">$5.00</text>
<text x="1645.50" y="381.4" font-size="15.3" fill="#9fa2a8" stroke="#9fa2a8" stroke-width="0.3" stroke-linejoin="round" textLength="36.14" lengthAdjust="spacingAndGlyphs">$4.49</text>
<text x="143.46" y="399.8" font-size="14.3" fill="#9fa2a8" stroke="#9fa2a8" stroke-width="0.1" textLength="43.68" lengthAdjust="spacingAndGlyphs">28 Apr</text>
<text x="212.89" y="399.8" font-size="14.3" fill="#9fa2a8" stroke="#9fa2a8" stroke-width="0.1" textLength="40.37" lengthAdjust="spacingAndGlyphs">3 May</text>
<text x="280.66" y="399.8" font-size="14.3" fill="#9fa2a8" stroke="#9fa2a8" stroke-width="0.1" textLength="40.37" lengthAdjust="spacingAndGlyphs">8 May</text>
<text x="344.30" y="399.8" font-size="14.3" fill="#9fa2a8" stroke="#9fa2a8" stroke-width="0.1" textLength="48.61" lengthAdjust="spacingAndGlyphs">13 May</text>
<text x="412.07" y="399.8" font-size="14.3" fill="#9fa2a8" stroke="#9fa2a8" stroke-width="0.1" textLength="48.61" lengthAdjust="spacingAndGlyphs">18 May</text>
<text x="479.84" y="399.8" font-size="14.3" fill="#9fa2a8" stroke="#9fa2a8" stroke-width="0.1" textLength="48.61" lengthAdjust="spacingAndGlyphs">23 May</text>
<text x="547.61" y="399.8" font-size="14.3" fill="#9fa2a8" stroke="#9fa2a8" stroke-width="0.1" textLength="48.61" lengthAdjust="spacingAndGlyphs">28 May</text>
<text x="621.56" y="399.8" font-size="14.3" fill="#9fa2a8" stroke="#9fa2a8" stroke-width="0.1" textLength="36.26" lengthAdjust="spacingAndGlyphs">2 Jun</text>
<text x="689.33" y="399.8" font-size="14.3" fill="#9fa2a8" stroke="#9fa2a8" stroke-width="0.1" textLength="36.26" lengthAdjust="spacingAndGlyphs">7 Jun</text>
<text x="752.98" y="399.8" font-size="14.3" fill="#9fa2a8" stroke="#9fa2a8" stroke-width="0.1" textLength="44.51" lengthAdjust="spacingAndGlyphs">12 Jun</text>
<text x="820.75" y="399.8" font-size="14.3" fill="#9fa2a8" stroke="#9fa2a8" stroke-width="0.1" textLength="44.51" lengthAdjust="spacingAndGlyphs">17 Jun</text>
<text x="888.52" y="399.8" font-size="14.3" fill="#9fa2a8" stroke="#9fa2a8" stroke-width="0.1" textLength="44.51" lengthAdjust="spacingAndGlyphs">22 Jun</text>
<text x="956.29" y="399.8" font-size="14.3" fill="#9fa2a8" stroke="#9fa2a8" stroke-width="0.1" textLength="44.51" lengthAdjust="spacingAndGlyphs">27 Jun</text>
<text x="1030.65" y="399.8" font-size="14.3" fill="#9fa2a8" stroke="#9fa2a8" stroke-width="0.1" textLength="31.31" lengthAdjust="spacingAndGlyphs">2 Jul</text>
<text x="1098.42" y="399.8" font-size="14.3" fill="#9fa2a8" stroke="#9fa2a8" stroke-width="0.1" textLength="31.31" lengthAdjust="spacingAndGlyphs">7 Jul</text>
<text x="1162.07" y="399.8" font-size="14.3" fill="#9fa2a8" stroke="#9fa2a8" stroke-width="0.1" textLength="39.56" lengthAdjust="spacingAndGlyphs">12 Jul</text>
<text x="1229.84" y="399.8" font-size="14.3" fill="#9fa2a8" stroke="#9fa2a8" stroke-width="0.1" textLength="39.56" lengthAdjust="spacingAndGlyphs">17 Jul</text>
<text x="1297.61" y="399.8" font-size="14.3" fill="#9fa2a8" stroke="#9fa2a8" stroke-width="0.1" textLength="39.56" lengthAdjust="spacingAndGlyphs">22 Jul</text>
<text x="1365.38" y="399.8" font-size="14.3" fill="#9fa2a8" stroke="#9fa2a8" stroke-width="0.1" textLength="39.56" lengthAdjust="spacingAndGlyphs">27 Jul</text>
<text x="1433.56" y="399.8" font-size="14.3" fill="#9fa2a8" stroke="#9fa2a8" stroke-width="0.1" textLength="38.74" lengthAdjust="spacingAndGlyphs">1 Aug</text>
<text x="1501.33" y="399.8" font-size="14.3" fill="#9fa2a8" stroke="#9fa2a8" stroke-width="0.1" textLength="38.74" lengthAdjust="spacingAndGlyphs">6 Aug</text>
<text x="1565.53" y="399.8" font-size="14.3" fill="#9fa2a8" stroke="#9fa2a8" stroke-width="0.1" textLength="45.88" lengthAdjust="spacingAndGlyphs">11 Aug</text>
<line x1="124.8" y1="246.8" x2="1635.2" y2="246.8" stroke="#dfe2e6" stroke-opacity="0.82" stroke-width="1.45" stroke-dasharray="5.2 2.4"/>
<line x1="1520.2" y1="127.6" x2="1520.2" y2="379" stroke="#dfe2e6" stroke-opacity="0.82" stroke-width="1.45" stroke-dasharray="5.2 2.4"/>
<circle cx="1520.2" cy="290" r="5.3" fill="#ffffff" stroke="#1fc389" stroke-width="2.5"/>
<circle cx="1520.2" cy="354.9" r="5.3" fill="#ffffff" stroke="#ecbc4b" stroke-width="2.5"/>
<rect x="16" y="232.4" width="108.8" height="27.6" rx="4" fill="#000"/>
<text x="24.91" y="250.5" font-size="15" font-weight="700" fill="#fff" textLength="91.67" lengthAdjust="spacingAndGlyphs">78,496,868.13</text>
<rect x="1638.8" y="232.6" width="45.3" height="27.1" rx="4" fill="#000"/>
<text x="1647.46" y="250.3" font-size="15" font-weight="700" fill="#fff" textLength="27.87" lengthAdjust="spacingAndGlyphs">7.37</text>
<rect x="1452.5" y="381.6" width="134.7" height="26.8" rx="4" fill="#000"/>
<text x="1460.60" y="399.7" font-size="15" font-weight="700" fill="#fff" textLength="39.59" lengthAdjust="spacingAndGlyphs">6 Aug</text>
<text x="1502.94" y="399.7" font-size="15" font-weight="700" fill="#fff" textLength="36.40" lengthAdjust="spacingAndGlyphs">2024,</text>
<text x="1541.43" y="399.7" font-size="15" font-weight="700" fill="#fff" textLength="37.88" lengthAdjust="spacingAndGlyphs">05:30</text>
<rect x="1228.3" y="271.9" width="269" height="130.7" rx="10" fill="#04060b"/>
<text x="1246.93" y="310.7" font-size="18.6" fill="#eef0f3" stroke="#eef0f3" stroke-width="0.75" stroke-linejoin="round" textLength="9.79" lengthAdjust="spacingAndGlyphs">6</text>
<text x="1261.84" y="310.7" font-size="18.6" fill="#eef0f3" stroke="#eef0f3" stroke-width="0.75" stroke-linejoin="round" textLength="33.44" lengthAdjust="spacingAndGlyphs">Aug</text>
<text x="1299.06" y="310.7" font-size="18.6" fill="#eef0f3" stroke="#eef0f3" stroke-width="0.75" stroke-linejoin="round" textLength="44.56" lengthAdjust="spacingAndGlyphs">2024,</text>
<text x="1348.47" y="310.7" font-size="18.6" fill="#eef0f3" stroke="#eef0f3" stroke-width="0.75" stroke-linejoin="round" textLength="45.88" lengthAdjust="spacingAndGlyphs">05:30</text>
<circle cx="1253.1" cy="344" r="5.4" fill="#ecb94d" stroke="#f2f3f5" stroke-width="1.5"/>
<text x="1265.40" y="350.6" font-size="18.3" fill="#cdd0d6" stroke="#cdd0d6" stroke-width="0.2" stroke-linejoin="round" textLength="31.05" lengthAdjust="spacingAndGlyphs">APT</text>
<text x="1303.27" y="350.6" font-size="18.3" fill="#cdd0d6" stroke="#cdd0d6" stroke-width="0.2" stroke-linejoin="round" textLength="42.11" lengthAdjust="spacingAndGlyphs">Price</text>
<text x="1432.47" y="350.6" font-size="18.3" font-weight="700" fill="#f1f3f6" textLength="45.30" lengthAdjust="spacingAndGlyphs">$4.98</text>
<circle cx="1253.1" cy="371.3" r="5.4" fill="#1fc082" stroke="#f2f3f5" stroke-width="1.5"/>
<text x="1264.78" y="377.6" font-size="18.3" fill="#cdd0d6" stroke="#cdd0d6" stroke-width="0.2" stroke-linejoin="round" textLength="44.81" lengthAdjust="spacingAndGlyphs">Open</text>
<text x="1313.70" y="377.6" font-size="18.3" fill="#cdd0d6" stroke="#cdd0d6" stroke-width="0.2" stroke-linejoin="round" textLength="67.56" lengthAdjust="spacingAndGlyphs">Interest</text>
<text x="1407.22" y="377.6" font-size="18.3" font-weight="700" fill="#f1f3f6" textLength="71.39" lengthAdjust="spacingAndGlyphs">$52.55M</text>
</svg></body></html>
